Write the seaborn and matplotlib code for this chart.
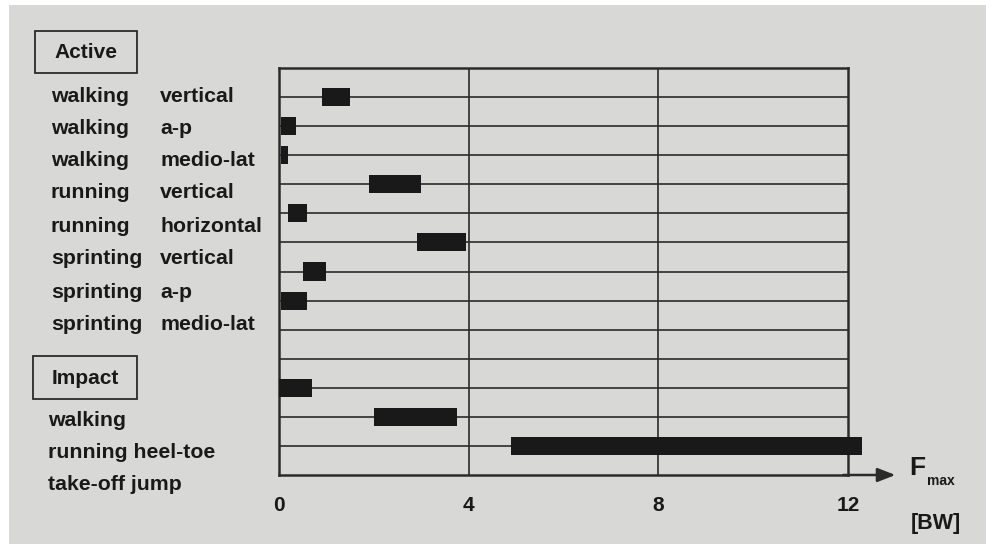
import matplotlib
matplotlib.use("Agg")
import matplotlib.pyplot as plt
from matplotlib.patches import Rectangle
import numpy as np
import pandas as pd
import seaborn as sns

# Peak ground reaction force ranges, in body weights [BW]
active_activity = ["walking", "walking", "walking", "running", "running",
                   "sprinting", "sprinting", "sprinting"]
active_direction = ["vertical", "a-p", "medio-lat", "vertical", "horizontal",
                    "vertical", "a-p", "medio-lat"]
active_low = [0.9, 0.05, 0.05, 1.9, 0.2, 2.9, 0.5, 0.05]
active_high = [1.5, 0.35, 0.2, 3.0, 0.6, 3.95, 1.0, 0.6]

impact_labels = ["walking", "running heel-toe", "take-off jump"]
impact_low = [0.0, 2.0, 4.9]
impact_high = [0.7, 3.75, 12.3]

x_ticks = [0, 4, 8, 12]
x_tick_labels = ["0", "4", "8", "12"]

# Row layout: 8 active rows, 2 spacer rows, 3 impact rows
active_rows = list(range(8))
impact_rows = [10, 11, 12]
all_rows = active_rows + impact_rows
n_lines = 13

df = pd.DataFrame({
    "row": all_rows,
    "low": active_low + impact_low,
    "high": active_high + impact_high,
})
df["span"] = df["high"] - df["low"]

PAPER = "#d8d8d6"
INK = "#1a1919"
LINE = "#2b2b2b"

sns.set_theme(style="white")
plt.rcParams["font.family"] = ["Liberation Sans", "DejaVu Sans"]
plt.rcParams["font.weight"] = "bold"

W, H = 986, 544
fig = plt.figure(figsize=(W / 100, H / 100), dpi=100, facecolor=PAPER)


def fx(px):
    return px / W


def fy(py):
    return 1 - py / H


# white page margins along the left and top edges
fig.patches.append(Rectangle((0, 0), fx(9), 1, transform=fig.transFigure,
                             facecolor="white", edgecolor="none", zorder=0))
fig.patches.append(Rectangle((0, fy(5)), 1, 5 / H, transform=fig.transFigure,
                             facecolor="white", edgecolor="none", zorder=0))

ax = fig.add_axes([fx(279), fy(475), fx(848 - 279), (475 - 68) / H])
ax.set_facecolor(PAPER)

# floating bars: span drawn from the low value
sns.barplot(data=df, x="span", y="row", orient="y", native_scale=True,
            left=df.sort_values("row")["low"].to_numpy(), width=0.62,
            color=INK, saturation=1, errorbar=None, ax=ax,
            edgecolor="none", linewidth=0, clip_on=False, zorder=3)

ax.set_xlim(0, 12)
ax.set_ylim(13, -1)

# row lines and vertical grid lines
ax.hlines(np.arange(n_lines), 0, 12, color=LINE, lw=1.2, zorder=2)
for xv in [4, 8]:
    ax.axvline(xv, color=LINE, lw=1.2, zorder=2)

for side in ["left", "right", "top", "bottom"]:
    ax.spines[side].set_visible(True)
    ax.spines[side].set_color(LINE)
    ax.spines[side].set_linewidth(1.8)

ax.set_xticks(x_ticks)
ax.set_xticklabels(x_tick_labels, fontsize=15, fontweight="bold", color=INK)
ax.tick_params(axis="x", length=0, pad=15)
ax.set_yticks([])
ax.set_xlabel("")
ax.set_ylabel("")

# x axis arrow beyond the frame
ax.annotate("", xy=(13.0, 13), xytext=(11.9, 13), xycoords="data",
            annotation_clip=False,
            arrowprops=dict(arrowstyle="-|>,head_length=0.9,head_width=0.35",
                            color=LINE, lw=1.8, shrinkA=0, shrinkB=0))

# axis unit labels
fig.text(fx(909), fy(468), "F", fontsize=19, fontweight="bold", color=INK,
         ha="left", va="center")
fig.text(fx(927), fy(481), "max", fontsize=10, fontweight="bold", color=INK,
         ha="left", va="center")
fig.text(fx(911), fy(524), "[BW]", fontsize=15.5, fontweight="bold", color=INK,
         ha="left", va="center")

# section boxes
for (x0, y0, x1, y1, title) in [(35, 31, 137, 73, "Active"),
                                (33, 356, 137, 399, "Impact")]:
    fig.patches.append(Rectangle((fx(x0), fy(y1)), fx(x1 - x0), (y1 - y0) / H,
                                 transform=fig.transFigure, facecolor="none",
                                 edgecolor=LINE, lw=1.3))
    fig.text(fx((x0 + x1) / 2), fy((y0 + y1) / 2 + 1), title, fontsize=15,
             fontweight="bold", color=INK, ha="center", va="center")

# row labels
active_y = [96, 128, 161, 193, 226, 259, 292, 324]
for act, direction, py in zip(active_activity, active_direction, active_y):
    fig.text(fx(51), fy(py), act, fontsize=15.3, fontweight="bold", color=INK,
             ha="left", va="center")
    fig.text(fx(160), fy(py), direction, fontsize=15.3, fontweight="bold",
             color=INK, ha="left", va="center")

impact_y = [420, 453, 485]
for lab, py in zip(impact_labels, impact_y):
    fig.text(fx(48), fy(py), lab, fontsize=15.3, fontweight="bold", color=INK,
             ha="left", va="center")

fig.savefig("out.png", dpi=100, facecolor=PAPER)
